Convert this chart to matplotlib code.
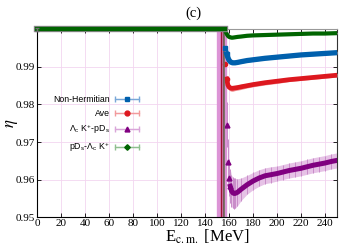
import matplotlib
matplotlib.use("Agg")
import matplotlib.pyplot as plt
import numpy as np
from matplotlib.legend_handler import HandlerErrorbar

plt.rcParams["font.family"] = ["Liberation Serif", "DejaVu Serif"]
plt.rcParams["mathtext.fontset"] = "stix"

# below threshold every channel sits at eta = 1
E_flat = [0, 157]
eta_flat = [1.0, 1.0]

# above threshold
E_b = [157, 158, 159, 160, 161, 162, 163, 165, 167, 170, 175, 180, 190, 200, 210, 220, 230, 240, 250]
eta_blue = [0.9950, 0.9935, 0.9925, 0.9918, 0.9914, 0.9912, 0.9911, 0.9911, 0.9912, 0.9914,
            0.9917, 0.9919, 0.9923, 0.9926, 0.9929, 0.9932, 0.9934, 0.9936, 0.9938]
err_blue = [0.0006, 0.0005, 0.0005, 0.0005, 0.0004, 0.0004, 0.0004, 0.0004, 0.0004, 0.0004,
            0.0004, 0.0004, 0.0004, 0.0004, 0.0004, 0.0004, 0.0004, 0.0004, 0.0004]
eta_red = [0.9908, 0.9868, 0.9852, 0.9846, 0.9844, 0.9843, 0.9843, 0.9844, 0.9845, 0.9847,
           0.9850, 0.9853, 0.9858, 0.9862, 0.9866, 0.9869, 0.9872, 0.9875, 0.9878]
err_red = [0.0012, 0.0010, 0.0009, 0.0008, 0.0008, 0.0008, 0.0008, 0.0007, 0.0007, 0.0007,
           0.0006, 0.0006, 0.0006, 0.0006, 0.0005, 0.0005, 0.0005, 0.0005, 0.0005]
eta_green = [0.9995, 0.9988, 0.9983, 0.9980, 0.9979, 0.9978, 0.9978, 0.9979, 0.9980, 0.9981,
             0.9983, 0.9984, 0.9985, 0.9986, 0.9987, 0.9988, 0.9989, 0.9989, 0.9990]
err_green = [0.0003] * 2 + [0.0002] * 17

E_p = [158, 159, 160, 161, 162, 163, 164, 165, 167, 170, 175, 180, 185, 190, 195, 200,
       205, 210, 215, 220, 225, 230, 235, 240, 245, 250]
eta_purple = [0.9746, 0.9648, 0.9605, 0.9582, 0.9570, 0.9565, 0.9563, 0.9563, 0.9566, 0.9574,
              0.9586, 0.9596, 0.9604, 0.9610, 0.9613, 0.9616, 0.9620, 0.9624, 0.9627, 0.9630,
              0.9634, 0.9638, 0.9641, 0.9644, 0.9648, 0.9651]
err_purple = [0.006, 0.006, 0.005, 0.0045, 0.0042, 0.0041, 0.0041, 0.004, 0.0036, 0.003,
              0.0025, 0.0023, 0.0022, 0.0021, 0.0021, 0.002, 0.002, 0.002, 0.002, 0.002,
              0.002, 0.002, 0.002, 0.002, 0.002, 0.002]

# near-threshold points with huge uncertainties
E_spike_p = [151, 152, 153, 154, 155, 156, 157]
eta_spike_p = [0.998, 0.996, 0.993, 0.990, 0.995, 0.9914, 0.975]
err_spike_p = [0.05, 0.06, 0.06, 0.06, 0.06, 0.06, 0.03]
E_spike_r = [153, 155]
eta_spike_r = [0.990, 0.985]
err_spike_r = [0.05, 0.04]
E_spike_g = [156]
eta_spike_g = [0.990]
err_spike_g = [0.05]

labels = ["Non-Hermitian", "Ave",
          r"Λ$_\mathregular{c}$ K$^\mathregular{+}$-pD$_\mathregular{s}$",
          r"pD$_\mathregular{s}$-Λ$_\mathregular{c}$ K$^\mathregular{+}$"]

c_blue, e_blue = "#0060ad", "#7aa8d8"
c_red, e_red = "#dd181f", "#f29a9c"
c_purple, e_purple = "#800080", "#d9a6d9"
c_green, e_green = "#006400", "#8fbf8f"

fig = plt.figure(figsize=(3.5, 2.45), dpi=100)
ax = fig.add_axes([0.106, 0.114, 0.857, 0.766])

ax.grid(True, color="#f3d6f0", linewidth=0.6)
ax.set_axisbelow(True)


def band(E, eta, err, color, z):
    eta, err = np.array(eta), np.array(err)
    ax.fill_between(E, eta - err, eta + err, color=color, lw=0, zorder=z)


# purple channel: loose points right at threshold, then the smooth curve
ax.errorbar(E_spike_p, eta_spike_p, yerr=err_spike_p, fmt="none", ecolor="#dc94d6",
            elinewidth=2.4, zorder=2)
band(E_p[3:], eta_purple[3:], err_purple[3:], "#e6c2e6", 2)
ax.errorbar(E_p, eta_purple, yerr=err_purple, fmt="none", ecolor="#c98cc9", elinewidth=0.7,
            zorder=2.1)
ax.plot(E_p[:4], eta_purple[:4], ls="none", color=c_purple, marker="^", ms=3.5, zorder=3)
ax.plot(E_p[3:], eta_purple[3:], color=c_purple, lw=3.6, zorder=3)

# red channel
ax.errorbar(E_spike_r, eta_spike_r, yerr=err_spike_r, fmt="none", ecolor="#a01030",
            elinewidth=1.0, zorder=3)
band(E_b[1:], eta_red[1:], err_red[1:], e_red, 3)
ax.plot(E_b[:2], eta_red[:2], ls="none", color=c_red, marker="o", ms=3, zorder=3.5)
ax.plot(E_b[1:], eta_red[1:], color=c_red, lw=3.4, zorder=3.5)

# blue channel
band(E_b[1:], eta_blue[1:], err_blue[1:], e_blue, 4)
ax.plot(E_b[:2], eta_blue[:2], ls="none", color=c_blue, marker="s", ms=2.5, zorder=4.5)
ax.plot(E_b[1:], eta_blue[1:], color=c_blue, lw=3.8, zorder=4.5)

# green channel
ax.errorbar(E_spike_g, eta_spike_g, yerr=err_spike_g, fmt="none", ecolor="#6e6e60",
            elinewidth=1.2, zorder=4)
band(E_b, eta_green, err_green, e_green, 5)
ax.plot(E_b, eta_green, color=c_green, lw=3.0, zorder=5.5)

# flat part below threshold
ax.plot(E_flat, eta_flat, color="#9a8a9a", lw=4.6, clip_on=False, zorder=6)
ax.plot(E_flat, eta_flat, color=c_green, lw=3.2, clip_on=False, zorder=6.5)
ax.errorbar(E_flat[:1], eta_flat[:1], yerr=[0.0004], fmt="none", ecolor="#707070",
            capsize=1.5, elinewidth=1, clip_on=False, zorder=7)

ax.set_xlim(0, 250)
ax.set_ylim(0.95, 1.0)
ax.set_xticks(np.arange(0, 241, 20))
ax.set_yticks([0.95, 0.96, 0.97, 0.98, 0.99])
ax.set_yticklabels(["0.95", "0.96", "0.97", "0.98", "0.99"])
ax.tick_params(direction="in", length=3, width=0.6, labelsize=8, pad=1.5,
               top=True, right=True)
for s in ax.spines.values():
    s.set_linewidth(0.8)
ax.spines["top"].set_color("#999999")
ax.spines["right"].set_color("#333333")

ax.set_xlabel(r"E$_\mathrm{c.m.}$ [MeV]", fontsize=12, labelpad=0)
ax.xaxis.set_label_coords(0.567, -0.055, transform=ax.transAxes)
ax.xaxis.label.set_va("top")
ax.set_ylabel(r"$\eta$", fontsize=12)
ax.yaxis.set_label_coords(-0.085, 0.5, transform=ax.transAxes)
ax.yaxis.label.set_va("center")
ax.set_title("(c)", fontsize=10.5, pad=9)
ax.title.set_x(0.52)

# legend proxies with horizontal error bars, like the gnuplot key
handles = []
for c, e, m in [(c_blue, e_blue, "s"), (c_red, e_red, "o"),
                (c_purple, e_purple, "^"), (c_green, e_green, "D")]:
    h = ax.errorbar([np.nan], [np.nan], xerr=[1], fmt="-" + m, color=e, mfc=c, mec=c,
                    ms=3.5 if m != "D" else 2.8, lw=0.9, ecolor=e, elinewidth=0.9, capsize=2)
    handles.append(h)
leg = ax.legend(handles, labels, loc="center right", bbox_to_anchor=(0.418, 0.492),
                bbox_transform=fig.transFigure, frameon=False, markerfirst=False,
                prop={"family": ["Liberation Sans", "DejaVu Sans"], "size": 6.3},
                handlelength=2.75, handletextpad=0.6, labelspacing=0.55, borderpad=0.3,
                handler_map={type(handles[0]): HandlerErrorbar(xerr_size=1.375)})

fig.savefig("out.png", dpi=100)
